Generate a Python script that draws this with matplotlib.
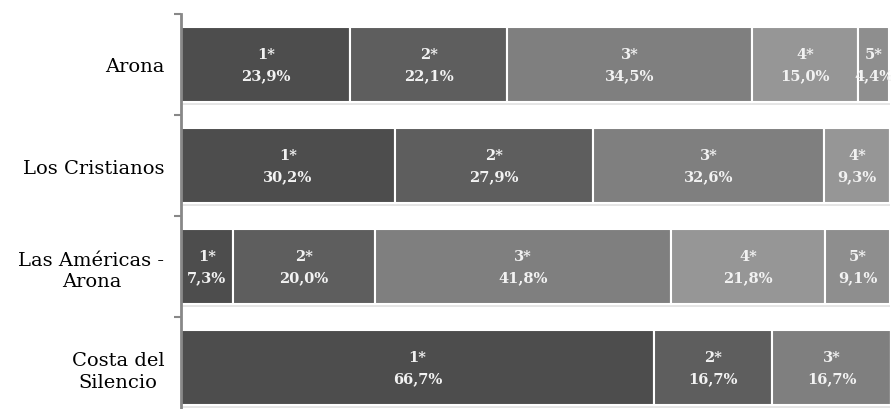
import matplotlib
matplotlib.use("Agg")
from matplotlib import pyplot as plt
from matplotlib import patheffects
import numpy as np

categories = ["Arona", "Los Cristianos", "Las Américas -\nArona", "Costa del\nSilencio"]
star_labels = ["1*", "2*", "3*", "4*", "5*"]
share_1 = [23.9, 30.2, 7.3, 66.7]
share_2 = [22.1, 27.9, 20.0, 16.7]
share_3 = [34.5, 32.6, 41.8, 16.7]
share_4 = [15.0, 9.3, 21.8, 0.0]
share_5 = [4.4, 0.0, 9.1, 0.0]
shares = [share_1, share_2, share_3, share_4, share_5]
colors = ["#4d4d4d", "#5e5e5e", "#7f7f7f", "#969696", "#8e8e8e"]

plt.rcParams['font.family'] = ['DejaVu Serif']

fig = plt.figure(figsize=(8.91, 4.10), dpi=100)
ax = fig.add_axes([181/891, -9/410, 709/891, 404/410])

y = np.arange(len(categories))
left = np.zeros(len(categories))
shadow = [patheffects.SimplePatchShadow(offset=(0.5, -2), shadow_rgbFace='#aaaaaa', alpha=0.3),
          patheffects.Normal()]

for star, vals, col in zip(star_labels, shares, colors):
    vals = np.array(vals)
    bars = ax.barh(y, vals, left=left, height=0.75, color=col,
                   edgecolor='white', linewidth=1.5)
    for b in bars:
        b.set_path_effects(shadow)
    for yi, v, l in zip(y, vals, left):
        if v <= 0:
            continue
        txt = star + "\n" + ("%.1f%%" % v).replace('.', ',')
        ax.text(l + v / 2, yi, txt, ha='center', va='center', color='#f2f2f2',
                fontsize=10.5, fontweight='bold', linespacing=1.6)
    left += vals

ax.set_xlim(0, 100)
ax.set_ylim(3.5, -0.5)
ax.set_yticks(y)
ax.set_yticklabels(categories, fontsize=14, multialignment='center', linespacing=1.25)
ax.set_yticks(np.arange(-0.5, 4.0, 1.0), minor=True)
ax.tick_params(axis='y', which='major', length=0, pad=12)
ax.tick_params(axis='y', which='minor', length=5, width=1.5, color='#888888')
ax.set_xticks([])

for s in ['top', 'right', 'bottom']:
    ax.spines[s].set_visible(False)
ax.spines['left'].set_color('#888888')
ax.spines['left'].set_linewidth(2)

fig.savefig("out.png", dpi=100)
